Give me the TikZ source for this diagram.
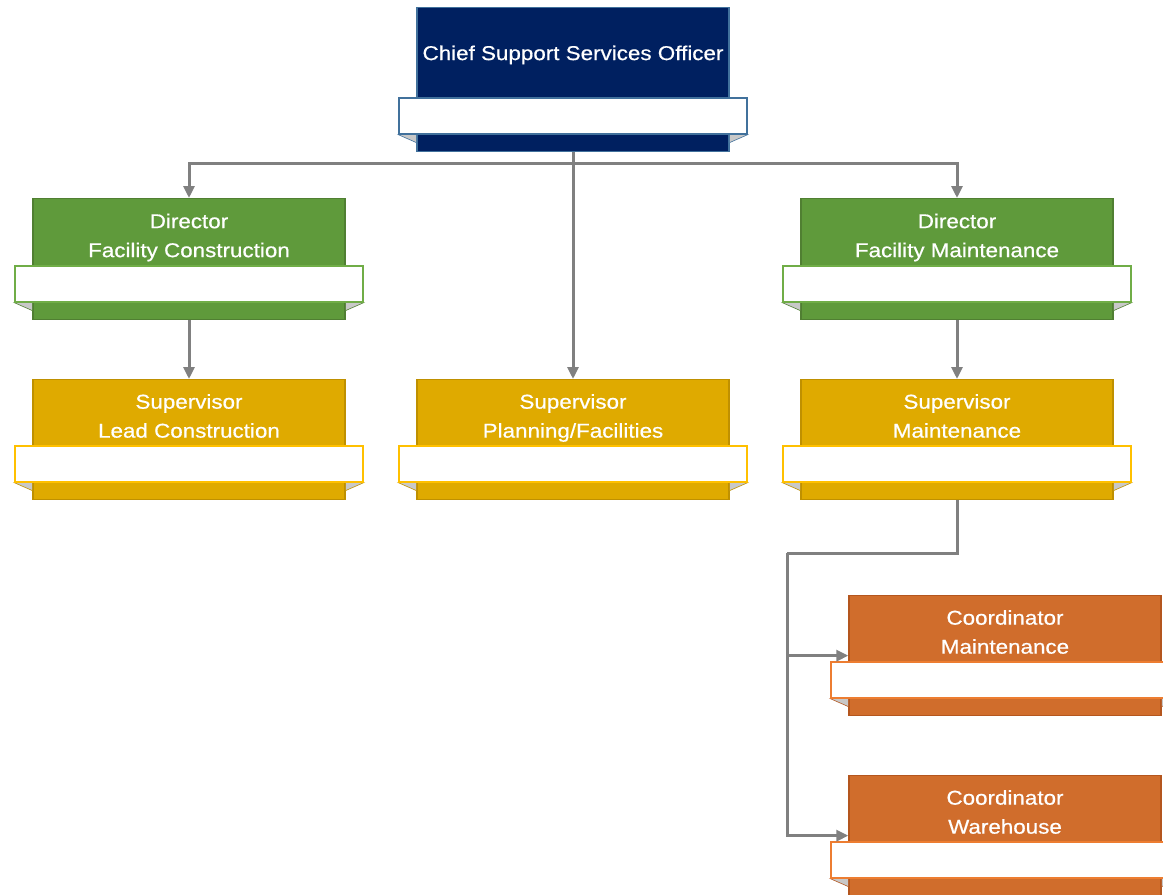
\documentclass[tikz,border=0pt]{standalone}
\usepackage{fontspec}
\setmainfont{Liberation Sans}[FakeStretch=1.12, FakeBold=0.6]
\usetikzlibrary{arrows.meta}

\definecolor{navyfill}{HTML}{002060}
\definecolor{navyline}{HTML}{41719C}
\definecolor{greenfill}{HTML}{5F9A3B}
\definecolor{greenline}{HTML}{507F32}
\definecolor{greenband}{HTML}{70AD47}
\definecolor{goldfill}{HTML}{DFAA00}
\definecolor{goldline}{HTML}{BF9000}
\definecolor{goldband}{HTML}{FFC000}
\definecolor{orangefill}{HTML}{D06D2C}
\definecolor{orangeline}{HTML}{B4561E}
\definecolor{orangeband}{HTML}{ED7D31}
\definecolor{linkgray}{HTML}{808080}
\definecolor{foldgray}{HTML}{C8C8C8}

\tikzset{
  unitbox/.style={draw=#1, line width=1.3pt, minimum width=312pt, inner sep=0pt, anchor=north},
  band/.style={draw=#1, fill=white, line width=1.6pt, minimum width=348pt, minimum height=36pt, inner sep=0pt, anchor=north},
  title/.style={text=white, align=center, inner sep=0pt, font=\fontsize{20}{29}\selectfont,
    execute at end node=\strut},
  conn/.style={draw=linkgray, line width=3pt, -{Triangle[length=12pt,width=11pt]}},
  bus/.style={draw=linkgray, line width=3pt},
}

% downward nudge of a title below the middle of its coloured strip
\def\titlenudge{8.25}

% #1 name, #2 centre x, #3 top y, #4 height, #5 band offset, #6 fill, #7 border, #8 band colour, #9 title
\newcommand\orgunit[9]{%
  \node[unitbox=#7, fill=#6, minimum height=#4pt] (#1) at (#2,#3) {};
  \node[band=#8, draw=none, fill=none] (#1-band) at ([yshift=-#5pt]#1.north) {};
  \fill[foldgray, draw=#7, line width=0.6pt] (#1-band.south west) -- (#1-band.south west -| #1.west)
      -- ([yshift=-8pt]#1-band.south west -| #1.west) -- cycle;
  \fill[foldgray, draw=#7, line width=0.6pt] (#1-band.south east) -- (#1-band.south east -| #1.east)
      -- ([yshift=-8pt]#1-band.south east -| #1.east) -- cycle;
  \node[band=#8] at ([yshift=-#5pt]#1.north) {};
  \pgfmathsetmacro\labeldrop{#5/2+\titlenudge}%
  \node[title] (#1-title) at ([yshift=-\labeldrop pt]#1.north) {#9};
}

\begin{document}
\begin{tikzpicture}[x=1pt, y=-1pt]
  \useasboundingbox (0,0) rectangle (1163,895);

  \def\titlenudge{2.25}
  \orgunit{ceo}{573}{7}{144}{90}{navyfill}{navyline}{navyline}{Chief Support Services Officer}
  \def\titlenudge{8.25}
  \orgunit{dirC}{189}{198}{121}{67}{greenfill}{greenline}{greenband}{Director\\Facility Construction}
  \orgunit{dirM}{957}{198}{121}{67}{greenfill}{greenline}{greenband}{Director\\Facility Maintenance}
  \orgunit{supL}{189}{379}{120}{66}{goldfill}{goldline}{goldband}{Supervisor\\Lead Construction}
  \orgunit{supP}{573}{379}{120}{66}{goldfill}{goldline}{goldband}{Supervisor\\Planning/Facilities}
  \orgunit{supM}{957}{379}{120}{66}{goldfill}{goldline}{goldband}{Supervisor\\Maintenance}
  \orgunit{coM}{1005}{595}{120}{66}{orangefill}{orangeline}{orangeband}{Coordinator\\Maintenance}
  \orgunit{coW}{1005}{775}{120}{66}{orangefill}{orangeline}{orangeband}{Coordinator\\Warehouse}

  % reporting lines
  \coordinate (split) at (573,163);
  \coordinate (hub) at (787,553);
  \draw[bus] (ceo.south) -- (split);
  \draw[conn] (split) -| (dirC.north);
  \draw[conn] (split) -| (dirM.north);
  \draw[conn] (ceo.south) -- (supP.north);
  \draw[conn] (dirC.south) -- (supL.north);
  \draw[conn] (dirM.south) -- (supM.north);
  \draw[bus] (supM.south) |- (hub);
  \draw[conn] (hub) |- (coM.west);
  \draw[conn] (hub) |- (coW.west);
\end{tikzpicture}
\end{document}
